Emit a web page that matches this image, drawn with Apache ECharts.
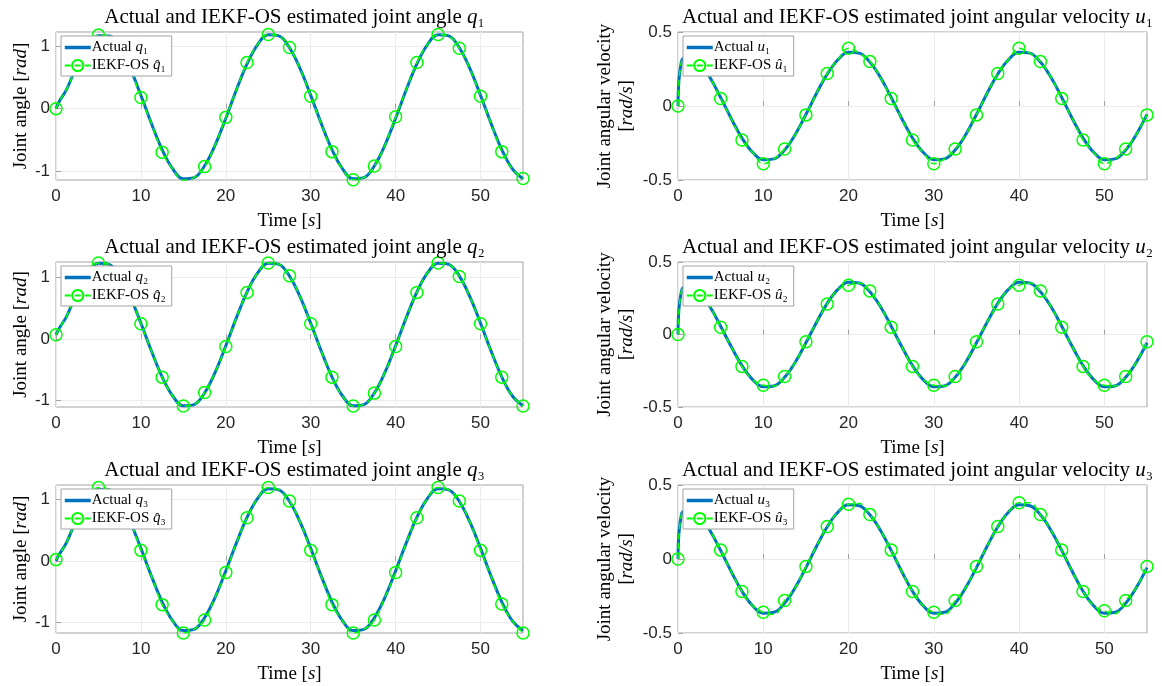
<!DOCTYPE html>
<html><head><meta charset="utf-8">
<script src="https://cdn.jsdelivr.net/npm/echarts@6/dist/echarts.min.js"></script>
<style>html,body{margin:0;padding:0;background:#fff}#c{width:1162px;height:686px}</style>
</head><body><div id="c"></div>
<script>
// ---------- data ----------
const time = [0,0.4,1.25,2.5,3.75,5,6.25,7.5,8.75,10,11.25,12.5,13.75,15,16.25,17.5,18.75,20,21.25,22.5,23.75,25,26.25,27.5,28.75,30,31.25,32.5,33.75,35,36.25,37.5,38.75,40,41.25,42.5,43.75,45,46.25,47.5,48.75,50,51.25,52.5,53.75,55];

const q1Actual = [0,0.12,0.31,0.70,1.01,1.17,1.167,0.977,0.641,0.213,-0.243,-0.658,-0.968,-1.126,-1.107,-0.917,-0.581,-0.153,0.303,0.718,1.028,1.186,1.167,0.977,0.641,0.213,-0.243,-0.658,-0.968,-1.126,-1.107,-0.917,-0.581,-0.153,0.303,0.718,1.028,1.186,1.167,0.977,0.641,0.213,-0.243,-0.658,-0.968,-1.126];
const q1Est = [0,0.12,0.31,0.70,1.01,1.18,1.167,0.97,0.641,0.18,-0.243,-0.70,-0.968,-1.15,-1.107,-0.93,-0.581,-0.14,0.303,0.74,1.028,1.19,1.167,0.98,0.641,0.20,-0.243,-0.69,-0.968,-1.14,-1.107,-0.92,-0.581,-0.13,0.303,0.74,1.028,1.19,1.167,0.97,0.641,0.20,-0.243,-0.69,-0.968,-1.12];

const q2Actual = [0.07,0.18,0.37,0.766,1.077,1.236,1.217,1.026,0.688,0.258,-0.199,-0.616,-0.927,-1.086,-1.067,-0.876,-0.538,-0.108,0.349,0.766,1.077,1.236,1.217,1.026,0.688,0.258,-0.199,-0.616,-0.927,-1.086,-1.067,-0.876,-0.538,-0.108,0.349,0.766,1.077,1.236,1.217,1.026,0.688,0.258,-0.199,-0.616,-0.927,-1.086];
const q2Est = [0.07,0.18,0.37,0.77,1.077,1.24,1.217,1.03,0.688,0.25,-0.199,-0.62,-0.927,-1.09,-1.067,-0.87,-0.538,-0.12,0.349,0.76,1.077,1.24,1.217,1.03,0.688,0.25,-0.199,-0.62,-0.927,-1.09,-1.067,-0.88,-0.538,-0.12,0.349,0.76,1.077,1.24,1.217,1.02,0.688,0.25,-0.199,-0.62,-0.927,-1.09];

const q3Actual = [0,0.11,0.30,0.70,1.00,1.16,1.152,0.962,0.628,0.202,-0.251,-0.665,-0.974,-1.131,-1.112,-0.922,-0.588,-0.162,0.291,0.705,1.014,1.171,1.152,0.962,0.628,0.202,-0.251,-0.665,-0.974,-1.131,-1.112,-0.922,-0.588,-0.162,0.291,0.705,1.014,1.171,1.152,0.962,0.628,0.202,-0.251,-0.665,-0.974,-1.131];
const q3Est = [0.02,0.11,0.30,0.70,1.00,1.19,1.152,0.97,0.628,0.17,-0.251,-0.71,-0.974,-1.17,-1.112,-0.96,-0.588,-0.19,0.291,0.70,1.014,1.19,1.152,0.97,0.628,0.17,-0.251,-0.71,-0.974,-1.17,-1.112,-0.96,-0.588,-0.19,0.291,0.70,1.014,1.19,1.152,0.97,0.628,0.17,-0.251,-0.70,-0.974,-1.17];

const u1Actual = [0,0.30,0.34,0.297,0.192,0.057,-0.086,-0.216,-0.313,-0.363,-0.357,-0.297,-0.192,-0.057,0.086,0.216,0.313,0.363,0.357,0.297,0.192,0.057,-0.086,-0.216,-0.313,-0.363,-0.357,-0.297,-0.192,-0.057,0.086,0.216,0.313,0.363,0.357,0.297,0.192,0.057,-0.086,-0.216,-0.313,-0.363,-0.357,-0.297,-0.192,-0.057];
const u1Est = [0,0.30,0.34,0.30,0.192,0.05,-0.086,-0.23,-0.313,-0.39,-0.357,-0.29,-0.192,-0.06,0.086,0.22,0.313,0.39,0.357,0.30,0.192,0.05,-0.086,-0.23,-0.313,-0.39,-0.357,-0.29,-0.192,-0.06,0.086,0.22,0.313,0.39,0.357,0.30,0.192,0.05,-0.086,-0.23,-0.313,-0.39,-0.357,-0.29,-0.192,-0.06];

const u2Actual = [0,0.30,0.34,0.295,0.191,0.057,-0.085,-0.215,-0.311,-0.361,-0.355,-0.295,-0.191,-0.057,0.085,0.215,0.311,0.361,0.355,0.295,0.191,0.057,-0.085,-0.215,-0.311,-0.361,-0.355,-0.295,-0.191,-0.057,0.085,0.215,0.311,0.361,0.355,0.295,0.191,0.057,-0.085,-0.215,-0.311,-0.361,-0.355,-0.295,-0.191,-0.057];
const u2Est = [0,0.30,0.34,0.295,0.191,0.05,-0.085,-0.22,-0.311,-0.35,-0.355,-0.29,-0.191,-0.05,0.085,0.21,0.311,0.34,0.355,0.30,0.191,0.05,-0.085,-0.22,-0.311,-0.35,-0.355,-0.29,-0.191,-0.05,0.085,0.21,0.311,0.34,0.355,0.30,0.191,0.05,-0.085,-0.22,-0.311,-0.35,-0.355,-0.29,-0.191,-0.05];

const u3Actual = [0,0.30,0.34,0.299,0.193,0.058,-0.086,-0.218,-0.316,-0.366,-0.360,-0.299,-0.193,-0.058,0.086,0.218,0.316,0.366,0.360,0.299,0.193,0.058,-0.086,-0.218,-0.316,-0.366,-0.360,-0.299,-0.193,-0.058,0.086,0.218,0.316,0.366,0.360,0.299,0.193,0.058,-0.086,-0.218,-0.316,-0.366,-0.360,-0.299,-0.193,-0.058];
const u3Est = [0,0.30,0.34,0.299,0.193,0.06,-0.086,-0.22,-0.316,-0.36,-0.375,-0.28,-0.193,-0.05,0.086,0.22,0.316,0.37,0.375,0.30,0.193,0.06,-0.086,-0.22,-0.316,-0.36,-0.375,-0.28,-0.193,-0.05,0.086,0.22,0.316,0.38,0.38,0.30,0.193,0.06,-0.086,-0.22,-0.316,-0.35,-0.37,-0.28,-0.193,-0.05];

const xTicks = [0,10,20,30,40,50];
const qTicks = [-1,0,1];
const uTicks = [-0.5,0,0.5];
const qRanges = [[-1.145,1.23],[-1.106,1.255],[-1.17,1.23]];
const uRange = [-0.5,0.5];
const subs = ['₁','₂','₃'];

// ---------- layout / style ----------
const SERIF = 'Liberation Serif';
const SANS = 'Liberation Sans';
const colX = [{left:56,width:467},{left:678,width:469}];
const rowY = [{top:32,height:148},{top:262,height:145},{top:485,height:148}];
const BLUE = '#0072BD', GREEN = '#00ff00', BOX = '#a3a3a3';

const richBase = (fs, lh) => ({
  n:{fontFamily:SERIF,fontSize:fs,fontWeight:'normal',color:'#000',lineHeight:lh},
  i:{fontFamily:SERIF,fontSize:fs,fontWeight:'normal',fontStyle:'italic',color:'#000',lineHeight:lh}
});

const panels = [];
for (let r=0;r<3;r++){
  panels.push({col:0,row:r,actual:[q1Actual,q2Actual,q3Actual][r],est:[q1Est,q2Est,q3Est][r],
    v:'q',sub:subs[r],range:qRanges[r],ticks:qTicks,
    title:'{n|Actual and IEKF-OS estimated joint angle }{i|q}{n|'+subs[r]+'}',
    yname:'{n|Joint angle [}{i|rad}{n|]}'});
  panels.push({col:1,row:r,actual:[u1Actual,u2Actual,u3Actual][r],est:[u1Est,u2Est,u3Est][r],
    v:'u',sub:subs[r],range:uRange,ticks:uTicks,
    title:'{n|Actual and IEKF-OS estimated joint angular velocity }{i|u}{n|'+subs[r]+'}',
    yname:'{n|Joint angular velocity}\n{n|[}{i|rad/s}{n|]}'});
}

const grid=[],xAxis=[],yAxis=[],series=[],title=[],legend=[];
const legendText = {};
panels.forEach((p,k)=>{
  const c=colX[p.col], rr=rowY[p.row];
  grid.push({left:c.left,top:rr.top,width:c.width,height:rr.height,show:true,borderColor:BOX,borderWidth:1,backgroundColor:'#fff'});
  title.push({text:p.title,left:c.left+c.width/2,top:rr.top-32,textAlign:'center',
    textStyle:{fontWeight:'normal',rich:richBase(21,24)}});
  xAxis.push({type:'value',gridIndex:k,min:0,max:55,
    axisLine:{show:false},
    axisTick:{show:true,inside:true,length:5,lineStyle:{color:BOX},customValues:xTicks},
    axisLabel:{fontFamily:SANS,fontSize:17,color:'#262626',margin:8,customValues:xTicks},
    splitLine:{show:true,lineStyle:{color:'#ebebeb',width:1}},
    name:'{n|Time [}{i|s}{n|]}',nameLocation:'middle',nameGap:30,
    nameTextStyle:{rich:richBase(19,22)}});
  yAxis.push({type:'value',gridIndex:k,min:p.range[0],max:p.range[1],
    axisLine:{show:false},
    axisTick:{show:true,inside:true,length:5,lineStyle:{color:BOX},customValues:p.ticks},
    axisLabel:{fontFamily:SANS,fontSize:17,color:'#262626',margin:6,customValues:p.ticks},
    splitLine:{show:true,lineStyle:{color:'#ebebeb',width:1}},
    name:p.yname,nameLocation:'middle',nameRotate:90,nameGap:p.col===0?19:41,
    nameTextStyle:{rich:richBase(19,21)}});
  const nA='Actual '+p.v+p.sub, nE='IEKF-OS hat '+p.v+p.sub;
  legendText[nA]='{n|Actual }{i|'+p.v+'}{n|'+p.sub+'}';
  legendText[nE]='{n|IEKF-OS }{i|'+(p.v==='q'?'q\u0302':'û')+'}{n|'+p.sub+'}';
  series.push({type:'line',name:nA,xAxisIndex:k,yAxisIndex:k,smooth:0.4,symbol:'none',
    lineStyle:{color:BLUE,width:3},itemStyle:{color:BLUE},
    data:time.map((t,j)=>[t,p.actual[j]]),z:2});
  series.push({type:'line',name:nE,xAxisIndex:k,yAxisIndex:k,smooth:0.4,symbol:'circle',symbolSize:12,
    showAllSymbol:true,
    lineStyle:{color:GREEN,width:1.5,type:[6,4]},
    itemStyle:{color:'rgba(255,255,255,0)',borderColor:GREEN,borderWidth:1.5},
    data:time.map((t,j)=>{
      const isMark=Math.abs(t/2.5-Math.round(t/2.5))<1e-6;
      return isMark?{value:[t,p.est[j]]}:{value:[t,p.est[j]],symbol:'none'};
    }),z:3});
  legend.push({data:[{name:nA,itemStyle:{opacity:0},lineStyle:{width:3.5,color:BLUE}},{name:nE}],
    orient:'vertical',left:c.left+5,top:rr.top+4,
    backgroundColor:'#fff',borderColor:BOX,borderWidth:1,padding:[4,6,3,2],itemGap:3,
    itemWidth:26,itemHeight:14,selectedMode:false,
    formatter:(name)=>legendText[name],
    textStyle:{rich:richBase(15,17),padding:[0,0,0,-4]}});
});

const chart = echarts.init(document.getElementById('c'),null,{renderer:'canvas'});
chart.setOption({animation:false,backgroundColor:'#fff',grid,xAxis,yAxis,series,title,legend});
</script></body></html>
